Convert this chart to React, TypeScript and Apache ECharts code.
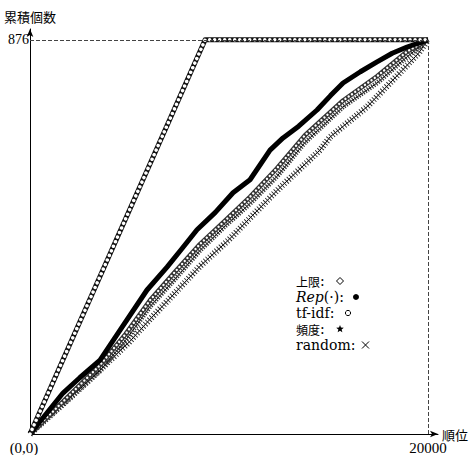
import React, { useEffect, useRef } from 'react';
import * as echarts from 'echarts';

// ---- data (x: 順位, y: 累積個数) ----
const yTickValues = [876];
const xTickValues = [0, 20000];
const upperBound = [[0, 0], [8800, 876], [20000, 876]];
const repData = [
  [0, 0], [1000, 55], [1658, 91], [2500, 125], [3518, 164], [4500, 229], [5879, 320],
  [6884, 371], [7600, 410], [8392, 454], [9300, 492], [10201, 536], [11055, 565],
  [12060, 631], [12714, 658], [13500, 684], [14422, 720], [15100, 752], [15729, 780],
  [16600, 805], [17437, 827], [18200, 846], [18945, 860], [20000, 876],
];
const tfidfData = [
  [0, 0], [1500, 65], [3518, 153], [4800, 222], [6030, 297], [7200, 356], [8543, 422],
  [9800, 474], [11055, 527], [12400, 590], [13819, 664], [15729, 741], [17437, 795],
  [18945, 850], [20000, 876],
];
const freqData = [
  [0, 0], [1500, 60], [3518, 141], [4800, 208], [6030, 283], [7200, 340], [8543, 408],
  [9800, 462], [11055, 512], [12400, 572], [13819, 648], [15729, 727], [17437, 780],
  [18945, 838], [20000, 876],
];
const randomData = [
  [0, 0], [2000, 80], [3518, 142], [5000, 205], [6030, 255], [7000, 300], [8543, 373],
  [10000, 432], [11055, 480], [12500, 545], [14573, 631], [15075, 660], [16935, 727],
  [18593, 803], [19500, 845], [20000, 876],
];
const xAxisName = '順位';
const yAxisName = '累積個数';
const legendCjk1 = '上限';
const legendCjk4 = '頻度';
const legendLatin = ['Rep', '(·):', 'tf-idf:', 'random:'];

const FONT = "'Liberation Serif', 'Noto Sans CJK JP', serif";
const LFONT = "'DejaVu Serif', 'Noto Sans CJK JP', serif";
const CJK = "'Noto Sans CJK JP', sans-serif";

function lineSeries(name: string, data: number[][], lineStyle: any) {
  return {
    name,
    type: 'line',
    data,
    symbol: 'none',
    showSymbol: false,
    silent: true,
    smooth: false,
    lineStyle: { join: 'round', ...lineStyle },
    emphasis: { disabled: true },
  };
}

function starPoints(cx: number, cy: number, ro: number, ri: number) {
  const pts: number[][] = [];
  for (let i = 0; i < 10; i++) {
    const r = i % 2 === 0 ? ro : ri;
    const a = -Math.PI / 2 + (i * Math.PI) / 5;
    pts.push([cx + r * Math.cos(a), cy + r * Math.sin(a)]);
  }
  return pts;
}

export default function App() {
  const ref = useRef<HTMLDivElement>(null);
  useEffect(() => {
    const chart = echarts.init(ref.current!, null, { renderer: 'svg' });
    const lx = 296;
    const ly = [281, 297, 313, 329, 345];
    const rich = {
      c: { font: `12px ${CJK}`, fill: '#000', color: '#000', lineHeight: 14 },
      l: { font: `14px ${LFONT}`, fill: '#000', color: '#000', lineHeight: 14 },
      i: { font: `italic 14px ${LFONT}`, fill: '#000', color: '#000', lineHeight: 14 },
    };
    const legendText = (t: string, y: number) => ({
      type: 'text',
      x: lx,
      y,
      style: {
        text: t,
        font: `14px ${LFONT}`,
        fill: '#000',
        verticalAlign: 'middle',
        align: 'left',
        lineHeight: 14,
        rich,
      },
    });
    chart.setOption({
      animation: false,
      backgroundColor: '#fff',
      grid: { left: 30, right: 33, top: 29, bottom: 21, containLabel: false, outerBoundsMode: 'none' },
      xAxis: {
        type: 'value',
        min: 0,
        max: 20500,
        axisLine: {
          show: true,
          onZero: false,
          symbol: ['none', 'arrow'],
          symbolSize: [5, 8],
          lineStyle: { color: '#000', width: 1 },
        },
        axisTick: { show: false },
        splitLine: { show: false },
        axisLabel: {
          customValues: xTickValues,
          margin: 6,
          color: '#000',
          fontFamily: FONT,
          fontSize: 15,
          formatter: (v: number) => (v === 0 ? '{o|(0,0)}' : String(v)),
          rich: { o: { padding: [0, 12, 0, 0], fontFamily: FONT, fontSize: 15, color: '#000' } },
        },
      },
      yAxis: {
        type: 'value',
        min: 0,
        max: 900,
        name: yAxisName,
        nameLocation: 'end',
        nameGap: 6,
        nameTextStyle: { fontFamily: CJK, fontSize: 13, color: '#000' },
        axisLine: {
          show: true,
          onZero: false,
          symbol: ['none', 'arrow'],
          symbolSize: [5, 8],
          lineStyle: { color: '#000', width: 1 },
        },
        axisTick: { show: false },
        splitLine: { show: false },
        axisLabel: {
          customValues: yTickValues,
          margin: 1,
          color: '#000',
          fontFamily: FONT,
          fontSize: 14,
        },
      },
      series: [
        {
          ...lineSeries('guides', [], { width: 0 }),
          markLine: {
            silent: true,
            symbol: ['none', 'none'],
            label: { show: false },
            lineStyle: { color: '#444', type: [4, 2], width: 1 },
            emphasis: { disabled: true },
            data: [
              [{ coord: [0, 876] }, { coord: [20000, 876] }],
              [{ coord: [20000, 0] }, { coord: [20000, 876] }],
            ],
          },
        },
        lineSeries('random', randomData, { color: '#000', width: 1 }),
        lineSeries('random-ticks', randomData, { color: '#222', width: 6.5, type: [0.9, 2.1] }),
        lineSeries('頻度', freqData, { color: '#000', width: 1 }),
        lineSeries('頻度-hatch', freqData, { color: '#333', width: 5, type: [1.2, 1.4] }),
        lineSeries('tf-idf', tfidfData, { color: '#333', width: 4.6 }),
        lineSeries('tf-idf-holes', tfidfData, { color: '#fff', width: 2.4, type: [0.01, 4], cap: 'round' }),
        lineSeries('Rep', repData, { color: '#000', width: 5 }),
        lineSeries('上限', upperBound, { color: '#111', width: 5 }),
        lineSeries('上限-holes', upperBound, { color: '#fff', width: 3.5, type: [0.01, 5], cap: 'round' }),
      ],
      graphic: [
        {
          type: 'text',
          x: 442,
          y: 434,
          style: { text: xAxisName, font: `13px ${CJK}`, fill: '#000', verticalAlign: 'middle', align: 'left' },
        },
        legendText(`{c|${legendCjk1}}{l|:}`, ly[0]),
        legendText(`{i|${legendLatin[0]}}{l|${legendLatin[1]}}`, ly[1]),
        legendText(`{l|${legendLatin[2]}}`, ly[2]),
        legendText(`{c|${legendCjk4}}{l|:}`, ly[3]),
        legendText(`{l|${legendLatin[3]}}`, ly[4]),
        {
          type: 'polygon',
          shape: { points: [[340, ly[0] - 3.5], [343.5, ly[0]], [340, ly[0] + 3.5], [336.5, ly[0]]] },
          style: { fill: '#fff', stroke: '#000', lineWidth: 1 },
        },
        { type: 'circle', shape: { cx: 356, cy: ly[1], r: 3 }, style: { fill: '#000' } },
        { type: 'circle', shape: { cx: 348, cy: ly[2], r: 2.6 }, style: { fill: '#fff', stroke: '#000', lineWidth: 1 } },
        { type: 'polygon', shape: { points: starPoints(340, ly[3], 4, 1.7) }, style: { fill: '#000' } },
        { type: 'line', shape: { x1: 362, y1: ly[4] - 3.5, x2: 369, y2: ly[4] + 3.5 }, style: { stroke: '#000', lineWidth: 1 } },
        { type: 'line', shape: { x1: 362, y1: ly[4] + 3.5, x2: 369, y2: ly[4] - 3.5 }, style: { stroke: '#000', lineWidth: 1 } },
      ],
    });
    return () => chart.dispose();
  }, []);
  return (
    <div
      ref={ref}
      style={{ position: 'fixed', left: 0, top: 0, width: 471, height: 455, background: '#fff' }}
    />
  );
}
